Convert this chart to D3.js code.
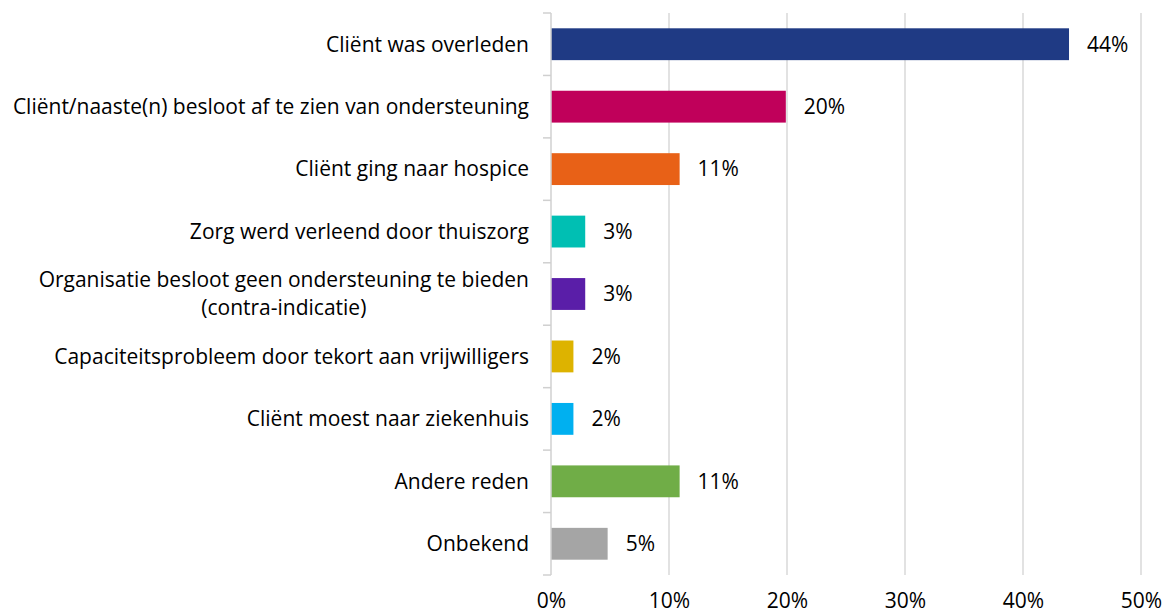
<!DOCTYPE html>
<html>
<head>
<meta charset="utf-8">
<script src="https://cdn.jsdelivr.net/npm/d3@7"></script>
<style>
  html, body { margin: 0; padding: 0; background: #fff; }
  svg text { font-family: "Open Sans", "Noto Sans", sans-serif; fill: #000; }
</style>
</head>
<body>
<svg id="chart" width="1168" height="615"></svg>
<script>
const categories = [
  ["Cliënt was overleden"],
  ["Cliënt/naaste(n) besloot af te zien van ondersteuning"],
  ["Cliënt ging naar hospice"],
  ["Zorg werd verleend door thuiszorg"],
  ["Organisatie besloot geen ondersteuning te bieden", "(contra-indicatie)"],
  ["Capaciteitsprobleem door tekort aan vrijwilligers"],
  ["Cliënt moest naar ziekenhuis"],
  ["Andere reden"],
  ["Onbekend"]
];
const values = [0.439, 0.199, 0.109, 0.029, 0.029, 0.019, 0.019, 0.109, 0.048];
const valueLabels = ["44%", "20%", "11%", "3%", "3%", "2%", "2%", "11%", "5%"];
const colors = ["#1F3A84", "#C0005A", "#E86117", "#00BFB3", "#5A1EA8", "#DDB300", "#00B0F0", "#70AD47", "#A5A5A5"];
const xTicks = [0, 0.1, 0.2, 0.3, 0.4, 0.5];

const svg = d3.select("#chart");
const fontSize = 21;

const x = d3.scaleLinear().domain([0, 0.5]).range([551, 1141]);
const y = d3.scaleBand().domain(d3.range(categories.length)).range([13, 575])
  .paddingInner(0.49).paddingOuter(0.245);

// gridlines
svg.append("g").selectAll("line").data(xTicks.slice(1)).join("line")
  .attr("x1", d => x(d)).attr("x2", d => x(d))
  .attr("y1", 13).attr("y2", 575)
  .attr("stroke", "#D9D9D9").attr("stroke-width", 1.5);

// bars
svg.append("g").selectAll("rect").data(values).join("rect")
  .attr("x", x(0))
  .attr("y", (d, i) => y(i))
  .attr("width", d => x(d) - x(0))
  .attr("height", y.bandwidth())
  .attr("fill", (d, i) => colors[i]);

// left axis line + ticks
const yAxisG = svg.append("g");
yAxisG.append("line").attr("x1", x(0)).attr("x2", x(0)).attr("y1", 13).attr("y2", 575)
  .attr("stroke", "#D0D0D0").attr("stroke-width", 1.5);
const bounds = d3.range(categories.length + 1).map(i => 13 + i * (562 / categories.length));
yAxisG.selectAll("line.tk").data(bounds).join("line").attr("class", "tk")
  .attr("x1", x(0) - 8).attr("x2", x(0))
  .attr("y1", d => d).attr("y2", d => d)
  .attr("stroke", "#D0D0D0").attr("stroke-width", 1.5);

// category labels
const labelG = svg.append("g");
categories.forEach((lines, i) => {
  const cy = y(i) + y.bandwidth() / 2;
  const lh = 28;
  const t = labelG.append("text")
    .attr("font-size", fontSize)
    .attr("text-anchor", "end");
  if (lines.length === 1) {
    t.append("tspan").attr("x", 529).attr("y", cy).attr("dy", "0.35em").text(lines[0]);
  } else {
    const tmp = labelG.append("text").attr("font-size", fontSize).text(lines[0]);
    const w = tmp.node().getComputedTextLength();
    tmp.remove();
    const centerX = 529 - w / 2;
    t.attr("text-anchor", "middle");
    lines.forEach((ln, k) => {
      t.append("tspan").attr("x", centerX)
        .attr("y", cy + (k - (lines.length - 1) / 2) * lh)
        .attr("dy", "0.35em").text(ln);
    });
  }
});

// value labels
svg.append("g").selectAll("text").data(values).join("text")
  .attr("x", d => x(d) + 18)
  .attr("y", (d, i) => y(i) + y.bandwidth() / 2)
  .attr("dy", "0.35em")
  .attr("font-size", fontSize)
  .text((d, i) => valueLabels[i]);

// x tick labels
const xAxis = d3.axisBottom(x).tickValues(xTicks).tickFormat(d3.format(".0%")).tickSize(0).tickPadding(0);
const xg = svg.append("g").attr("transform", "translate(0,593)").call(xAxis);
xg.select(".domain").remove();
xg.selectAll("text").attr("font-size", fontSize).attr("font-family", "Open Sans").attr("fill", "#000");
</script>
</body>
</html>
